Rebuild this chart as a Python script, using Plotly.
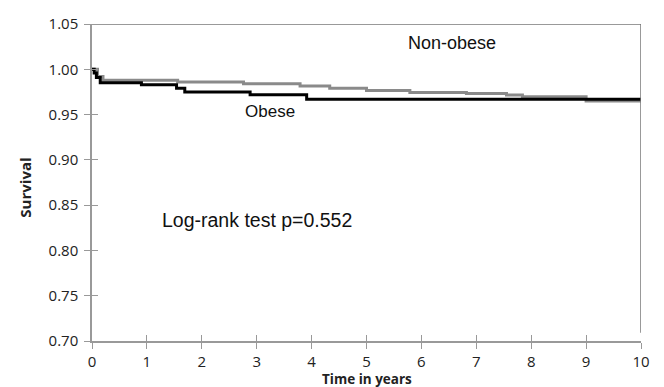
import plotly.graph_objects as go

# Kaplan-Meier step curves (time in years, survival)
obese_t = [0, 0.04, 0.08, 0.15, 0.9, 1.54, 1.69, 2.88, 3.91, 10]
obese_s = [1.0, 0.996, 0.991, 0.985, 0.983, 0.979, 0.975, 0.972, 0.967, 0.967]

nonobese_t = [0, 0.1, 0.2, 1.56, 2.76, 3.79, 4.33, 5.0, 5.79, 6.82, 7.55, 7.84, 9.0, 10]
nonobese_s = [1.0, 0.992, 0.988, 0.986, 0.984, 0.9815, 0.979, 0.9765, 0.9745, 0.9733, 0.9715, 0.9697, 0.965, 0.965]

x_ticks = [0, 1, 2, 3, 4, 5, 6, 7, 8, 9, 10]
y_ticks = [0.70, 0.75, 0.80, 0.85, 0.90, 0.95, 1.00, 1.05]
y_labels = ["0.70", "0.75", "0.80", "0.85", "0.90", "0.95", "1.00", "1.05"]

fig = go.Figure()
fig.add_trace(go.Scatter(x=nonobese_t, y=nonobese_s, mode="lines", line_shape="hv",
                         line=dict(color="#8a8a8a", width=3), showlegend=False))
fig.add_trace(go.Scatter(x=obese_t, y=obese_s, mode="lines", line_shape="hv",
                         line=dict(color="#000000", width=3), showlegend=False))
# invisible trace on overlay axes (for inner half of crossing ticks)
fig.add_trace(go.Scatter(x=[0], y=[0.7], xaxis="x2", yaxis="y2", mode="markers",
                         marker=dict(opacity=0), showlegend=False, hoverinfo="skip"))

tickfont = dict(family="Open Sans", size=15, color="#222")
fig.update_layout(
    width=656, height=379,
    margin=dict(l=84, r=23, t=16, b=46),
    paper_bgcolor="white", plot_bgcolor="white",
    xaxis=dict(range=[0, 10], tickvals=x_ticks, ticks="outside", ticklen=6, tickcolor="#999",
               showline=True, linecolor="#999", linewidth=1.5, showgrid=False, zeroline=False,
               tickfont=tickfont, automargin=False, ticklabelstandoff=0),
    yaxis=dict(range=[0.70, 1.05], tickvals=y_ticks, ticktext=y_labels, ticks="outside", ticklen=6,
               tickcolor="#999", showline=True, linecolor="#999", linewidth=1.5, showgrid=False,
               zeroline=False, tickfont=tickfont, automargin=False, ticklabelstandoff=3),
    xaxis2=dict(range=[0, 10], overlaying="x", tickvals=x_ticks, ticks="inside", ticklen=6,
                tickcolor="#999", showticklabels=False, showline=False, showgrid=False, zeroline=False,
                automargin=False),
    yaxis2=dict(range=[0.70, 1.05], overlaying="y", tickvals=y_ticks, ticks="inside", ticklen=6,
                tickcolor="#999", showticklabels=False, showline=False, showgrid=False, zeroline=False,
                automargin=False),
    shapes=[
        dict(type="line", xref="x", yref="y", x0=0, x1=10, y0=1.05, y1=1.05,
             line=dict(color="#777", width=1.5)),
        dict(type="line", xref="x", yref="y", x0=10, x1=10, y0=0.709, y1=1.05,
             line=dict(color="#777", width=1.5)),
    ],
    annotations=[
        dict(x=6.55, y=1.029, xref="x", yref="y", text="Non-obese", showarrow=False,
             font=dict(family="Liberation Sans", size=18, color="#111")),
        dict(x=3.25, y=0.9535, xref="x", yref="y", text="Obese", showarrow=False,
             font=dict(family="Liberation Sans", size=17, color="#111")),
        dict(x=3.0, y=0.8335, xref="x", yref="y", text="Log-rank test p=0.552", showarrow=False,
             font=dict(family="Liberation Sans", size=19.5, color="#111")),
        dict(x=0, y=0.8693, xref="paper", yref="y", xanchor="center", yanchor="middle",
             xshift=-67, textangle=-90, text="<b>Survival</b>", showarrow=False,
             font=dict(family="Open Sans", size=15, color="#222")),
        dict(x=0.5, y=0, xref="paper", yref="paper", xanchor="center", yanchor="middle",
             yshift=-37.5, text="<b>Time in years</b>", showarrow=False,
             font=dict(family="Open Sans", size=13.5, color="#222")),
    ],
)

fig.write_html("out.html")
